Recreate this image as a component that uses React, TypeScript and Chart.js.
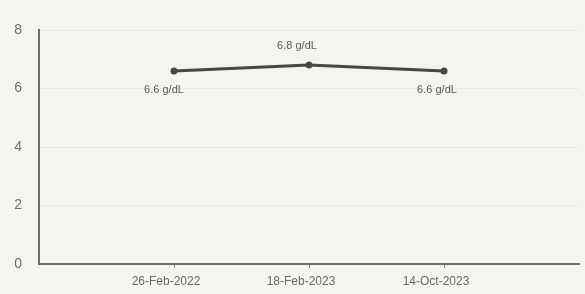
import React, { useEffect, useRef } from "react";
import { Chart, registerables } from "chart.js";

Chart.register(...registerables);

const categories = ["", "26-Feb-2022", "18-Feb-2023", "14-Oct-2023", ""];
const hbValues = [null, 6.6, 6.8, 6.6, null];
const unit = "g/dL";
const yTicks = [0, 2, 4, 6, 8];

const labelPlugin = {
  id: "valueLabels",
  afterDatasetsDraw(chart: any) {
    const { ctx } = chart;
    const meta = chart.getDatasetMeta(0);
    ctx.save();
    ctx.font = "11px 'Liberation Sans', Arial, sans-serif";
    ctx.fillStyle = "#5a5a5a";
    ctx.textAlign = "center";
    ctx.textBaseline = "middle";
    meta.data.forEach((pt: any, i: number) => {
      const v = hbValues[i];
      if (v == null) return;
      const above = i === 2;
      const dx = i === 1 ? -10 : i === 2 ? -12 : -7;
      const dy = above ? -19 : 19;
      ctx.fillText(`${v} ${unit}`, pt.x + dx, pt.y + dy);
    });
    ctx.restore();
  },
};

const bgPlugin = {
  id: "bg",
  beforeDraw(chart: any) {
    const { ctx, width, height } = chart;
    ctx.save();
    ctx.fillStyle = "#f4f4f0";
    ctx.fillRect(0, 0, width, height);
    ctx.restore();
  },
};

export default function App() {
  const ref = useRef<HTMLCanvasElement>(null);
  useEffect(() => {
    if (!ref.current) return;
    const chart = new Chart(ref.current, {
      type: "line",
      data: {
        labels: categories,
        datasets: [
          {
            data: hbValues as any,
            borderColor: "#474747",
            backgroundColor: "#474747",
            borderWidth: 3,
            pointRadius: 3.5,
            pointBackgroundColor: "#474747",
            pointBorderWidth: 0,
            tension: 0,
            spanGaps: false,
          },
        ],
      },
      options: {
        animation: false,
        responsive: false,
        maintainAspectRatio: false,
        layout: { padding: { top: 30, right: 0, left: 0, bottom: 0 } },
        plugins: { legend: { display: false }, tooltip: { enabled: false } },
        scales: {
          x: {
            offset: false,
            grid: {
              display: true,
              drawOnChartArea: false,
              drawTicks: true,
              tickLength: 4,
              color: (c: any) =>
                c.index != null && categories[c.index] ? "#8a8a8a" : "rgba(0,0,0,0)",
            },
            border: { display: true, color: "#6e6e6e", width: 2 },
            ticks: {
              color: "#6a6a6a",
              font: { size: 12, family: "'Liberation Sans', Arial, sans-serif" },
              maxRotation: 0,
              autoSkip: false,
              labelOffset: -8,
              padding: 6,
            },
            afterFit(scale: any) {
              scale.height = 30;
            },
          },
          y: {
            min: 0,
            max: 8,
            afterBuildTicks(scale: any) {
              scale.ticks = yTicks.map((v) => ({ value: v }));
            },
            grid: { color: "#e8e8e4", drawTicks: false, lineWidth: 1 },
            border: { display: true, color: "#6e6e6e", width: 2 },
            ticks: {
              color: "#6f6f6f",
              font: { size: 14, family: "'Liberation Sans', Arial, sans-serif" },
              padding: 17,
            },
            afterFit(scale: any) {
              scale.width = 39;
            },
          },
        },
      },
      plugins: [bgPlugin, labelPlugin],
    });
    return () => chart.destroy();
  }, []);
  return (
    <div style={{ position: "fixed", left: 0, top: 0, width: 585, height: 294 }}>
      <canvas ref={ref} width={585} height={294} style={{ width: 585, height: 294 }} />
    </div>
  );
}
